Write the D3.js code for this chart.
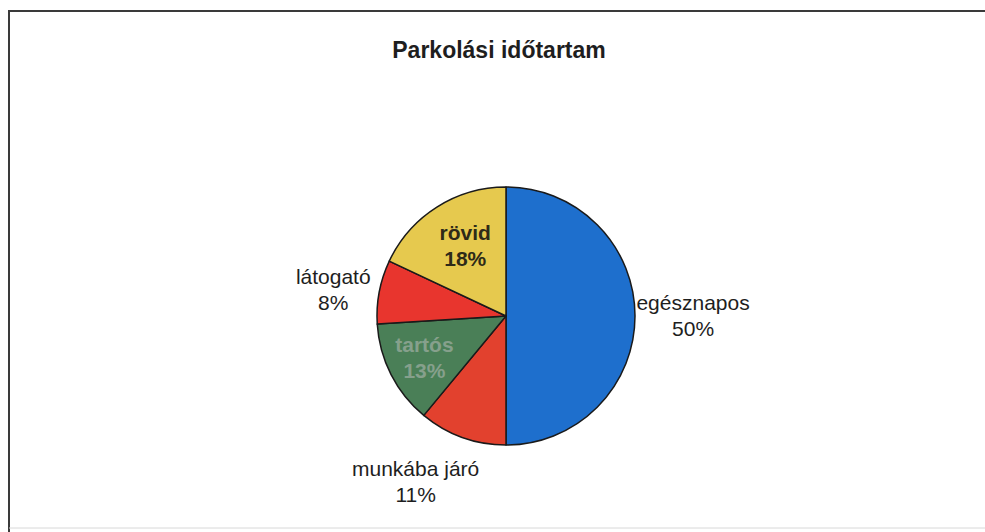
<!DOCTYPE html>
<html>
<head>
<meta charset="utf-8">
<script src="https://cdn.jsdelivr.net/npm/d3@7"></script>
<style>
  body { margin: 0; background: #fff; }
  svg { display: block; font-family: "Liberation Sans", Arial, sans-serif; }
</style>
</head>
<body>
<svg id="chart" width="985" height="532"></svg>
<script>
// data, clockwise from 12 o'clock
var categories = ["egésznapos", "munkába járó", "tartós", "látogató", "rövid"];
var values = [50, 11, 13, 8, 18];
var sliceColors = ["#1e6fcd", "#e2412e", "#4a7f57", "#e8352e", "#e6c94e"];
var title = "Parkolási időtartam";

var svg = d3.select("svg#chart"),
    width = +svg.attr("width"),
    height = +svg.attr("height");

// scanned page frame
svg.append("line").attr("x1", 9).attr("x2", width).attr("y1", 11).attr("y2", 11)
  .attr("stroke", "#3a3a3a").attr("stroke-width", 2);
svg.append("line").attr("x1", 9).attr("x2", 9).attr("y1", 10).attr("y2", height)
  .attr("stroke", "#3a3a3a").attr("stroke-width", 2);
svg.append("line").attr("x1", 9).attr("x2", width).attr("y1", 528).attr("y2", 528)
  .attr("stroke", "#d8d8d8").attr("stroke-width", 1);

svg.append("text")
  .attr("x", 499).attr("y", 58)
  .attr("text-anchor", "middle")
  .attr("font-size", 23).attr("font-weight", "bold").attr("fill", "#1e1e1e")
  .text(title);

var cx = 506, cy = 316, r = 129;

var data = categories.map(function(c, i) { return {name: c, value: values[i], color: sliceColors[i]}; });

var pie = d3.pie().sort(null).value(function(d) { return d.value; });
var arc = d3.arc().innerRadius(0).outerRadius(r);
var arcs = pie(data);

var g = svg.append("g").attr("transform", "translate(" + cx + "," + cy + ")");

g.selectAll("path.slice")
  .data(arcs)
  .enter().append("path")
  .attr("class", "slice")
  .attr("d", arc)
  .attr("fill", function(d) { return d.data.color; })
  .attr("stroke", "#1a1a1a")
  .attr("stroke-width", 1.5)
  .attr("stroke-linejoin", "round");

// label placement: radius factor (of r) and small nudges, like excel's "best fit"
var labelLayout = {
  "egésznapos":   {k: 1.45, dx: 0,   dy: 0,  inside: false},
  "munkába járó": {k: 1.45, dx: -27, dy: -10, inside: false},
  "tartós":       {k: 0.71, dx: 0,   dy: 0,  inside: true},
  "látogató":     {k: 1.45, dx: 11,  dy: 9,  inside: false},
  "rövid":        {k: 0.59, dx: 0,   dy: -6, inside: true}
};

var fs = 21, lh = 26;

var labels = g.selectAll("text.label")
  .data(arcs)
  .enter().append("text")
  .attr("class", "label")
  .attr("text-anchor", "middle")
  .attr("font-size", fs)
  .attr("font-weight", function(d) { return labelLayout[d.data.name].inside ? "bold" : "normal"; })
  .attr("fill", function(d) {
    if (d.data.name === "tartós") return "#86a08c";
    return labelLayout[d.data.name].inside ? "#2e2a18" : "#1e1e1e";
  })
  .attr("transform", function(d) {
    var L = labelLayout[d.data.name];
    var p = d3.arc().innerRadius(r * L.k).outerRadius(r * L.k).centroid(d);
    return "translate(" + (p[0] + L.dx) + "," + (p[1] + L.dy) + ")";
  });

labels.append("tspan")
  .attr("x", 0)
  .attr("y", -lh / 2 + fs * 0.35)
  .text(function(d) { return d.data.name; });

labels.append("tspan")
  .attr("x", 0)
  .attr("y", lh / 2 + fs * 0.35)
  .text(function(d) { return d.data.value + "%"; });
</script>
</body>
</html>
